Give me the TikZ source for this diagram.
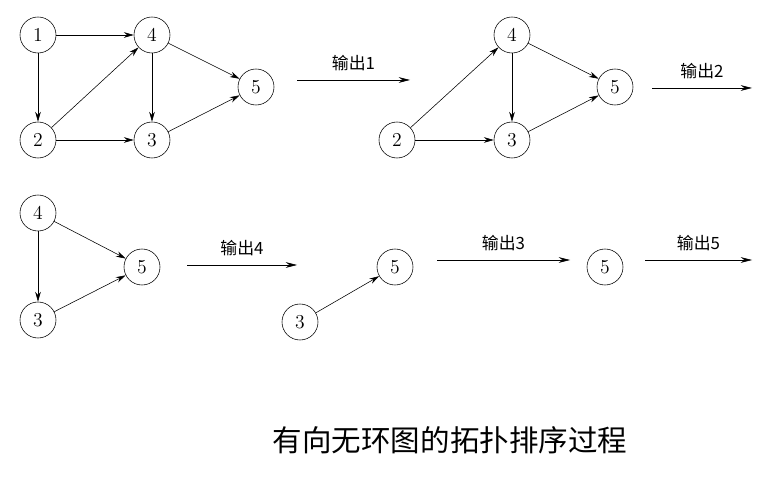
\documentclass[tikz,border=0pt]{standalone}
\usepackage{fontspec}
\newfontfamily\cjk{Noto Sans CJK SC}
\usetikzlibrary{arrows.meta}
\tikzset{vtx/.style={draw, circle, minimum size=0.9cm, inner sep=0pt, font=\fontsize{14}{14}\selectfont},
	edge/.style={-{Stealth[length=7pt,width=4pt]}, thin},
	stage/.style={-{Stealth[length=8pt,width=4pt]}, thin},
	stagetext/.style={above=3pt, font=\cjk\fontsize{12}{12}\selectfont}}
\begin{document}
\begin{tikzpicture}[x=0.025cm, y=-0.025cm, line join=round]
\useasboundingbox (0,0) rectangle (780,477);

% first graph
\node (a1) at (38,35) [vtx] {1};
\node (a4) at (152,35) [vtx] {4};
\node (a5) at (256,87) [vtx] {5};
\node (a2) at (38,140) [vtx] {2};
\node (a3) at (152,140) [vtx] {3};
\draw[edge] (a1) -- (a4);
\draw[edge] (a1) -- (a2);
\draw[edge] (a2) -- (a4);
\draw[edge] (a2) -- (a3);
\draw[edge] (a4) -- (a3);
\draw[edge] (a4) -- (a5);
\draw[edge] (a3) -- (a5);

\coordinate (s1a) at (297,80);
\coordinate (s1b) at (410,80);
\draw[stage] (s1a) -- node[stagetext] {输出1} (s1b);

% second graph
\node (b4) at (512,35) [vtx] {4};
\node (b5) at (615,87) [vtx] {5};
\node (b2) at (397,140) [vtx] {2};
\node (b3) at (512,140) [vtx] {3};
\draw[edge] (b2) -- (b4);
\draw[edge] (b2) -- (b3);
\draw[edge] (b4) -- (b3);
\draw[edge] (b4) -- (b5);
\draw[edge] (b3) -- (b5);

\coordinate (s2a) at (652,88);
\coordinate (s2b) at (752,88);
\draw[stage] (s2a) -- node[stagetext] {输出2} (s2b);

% third graph
\node (c4) at (38,213) [vtx] {4};
\node (c5) at (142,267) [vtx] {5};
\node (c3) at (38,320) [vtx] {3};
\draw[edge] (c4) -- (c3);
\draw[edge] (c4) -- (c5);
\draw[edge] (c3) -- (c5);

\coordinate (s3a) at (187,265);
\coordinate (s3b) at (297,265);
\draw[stage] (s3a) -- node[stagetext] {输出4} (s3b);

% fourth graph
\node (d5) at (395,267) [vtx] {5};
\node (d3) at (300,322) [vtx] {3};
\draw[edge] (d3) -- (d5);

\coordinate (s4a) at (437,260);
\coordinate (s4b) at (570,260);
\draw[stage] (s4a) -- node[stagetext] {输出3} (s4b);

\node (e5) at (605,267) [vtx] {5};
\coordinate (s5a) at (645,260);
\coordinate (s5b) at (752,260);
\draw[stage] (s5a) -- node[stagetext] {输出5} (s5b);

\node (caption) at (450,440) [font=\cjk\fontsize{21}{21}\selectfont] {有向无环图的拓扑排序过程};

\end{tikzpicture}
\end{document}
